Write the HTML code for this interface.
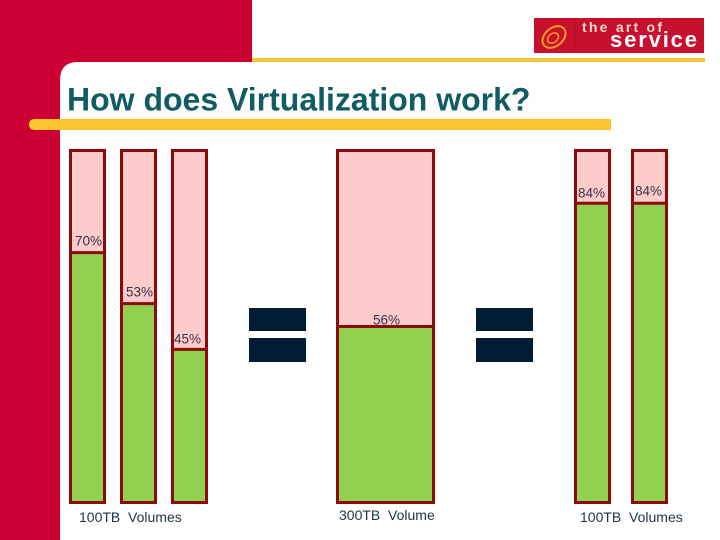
<!DOCTYPE html>
<html lang="en">
<head>
<meta charset="utf-8">
<title>How does Virtualization work?</title>
<style>
html,body{margin:0;padding:0;background:#fff;}
body{width:720px;height:540px;overflow:hidden;position:relative;}
svg{display:block;position:absolute;left:0;top:0;font-family:"Liberation Sans",sans-serif;}
</style>
</head>
<body>
<svg id="chart" width="720" height="540" viewBox="0 0 720 540">
  <rect x="0" y="0" width="252" height="80" fill="#cc0033"/>
  <rect x="0" y="0" width="60" height="540" fill="#cc0033"/>
  <path d="M60 540V80Q60 62 78 62H252V80H720V540Z" fill="#fff"/>
  <rect x="252" y="58" width="453" height="4" fill="#f5c53a"/>
  <g>
    <rect x="534" y="18" width="170" height="35" fill="#c8102e"/>
    <line x1="575.500" y1="18" x2="575.500" y2="53" stroke="#b50e2a" stroke-width="1"/>
    <ellipse cx="554" cy="37" rx="13" ry="9" transform="rotate(-40 554 37)" fill="none" stroke="#f59a23" stroke-width="2"/>
    <ellipse cx="553" cy="38" rx="6" ry="4.500" transform="rotate(-40 553 38)" fill="none" stroke="#f59a23" stroke-width="1.500"/>
    <text x="582" y="32" font-size="14" font-weight="bold" fill="#f6dcc8" textLength="80">the art of</text>
    <text x="610" y="47" font-size="22" font-weight="bold" fill="#fff" textLength="87">service</text>
  </g>
  <text x="67" y="110.500" font-size="32" font-weight="bold" fill="#0f5c62">How does Virtualization work?</text>
  <path d="M35 119H611V130H35Q29 130 29 124.500Q29 119 35 119Z" fill="#fcc52f"/>
  <g id="bars"></g>
  <g id="equals"></g>
  <g id="captions"></g>
</svg>
<script>
const barNames = ["vol-a", "vol-b", "vol-c", "pool", "vol-d", "vol-e"];
const fillLevels = [71, 56.5, 43.5, 50, 85, 85];
const printedLabels = ["70%", "53%", "45%", "56%", "84%", "84%"];
const captionLabels = ["100TB  Volumes", "300TB  Volume", "100TB  Volumes"];

const NS = "http://www.w3.org/2000/svg";
const barsGroup = document.getElementById("bars");
const equalsGroup = document.getElementById("equals");
const captionsGroup = document.getElementById("captions");

const plotTop = 150.5;
const plotBottom = 502.5;
function yScale(pct) { return plotBottom - (plotBottom - plotTop) * pct / 100; }

const barLeft = [70.5, 121.5, 172.5, 337.5, 575.5, 632.5];
const barWidth = [34, 34, 34, 96, 34, 34];
const labelX = [75, 126, 174, 373, 578, 635];
const labelGap = [7, 7, 6, 2, 6, 8];

barNames.forEach(function (name, i) {
  const x = barLeft[i];
  const w = barWidth[i];
  const y = yScale(fillLevels[i]);

  const track = document.createElementNS(NS, "rect");
  track.setAttribute("x", x);
  track.setAttribute("y", plotTop);
  track.setAttribute("width", w);
  track.setAttribute("height", plotBottom - plotTop);
  track.setAttribute("fill", "#ffcccc");
  
  
  barsGroup.appendChild(track);

  const used = document.createElementNS(NS, "rect");
  used.setAttribute("x", x);
  used.setAttribute("y", y);
  used.setAttribute("width", w);
  used.setAttribute("height", plotBottom - y);
  used.setAttribute("fill", "#92d050");
  
  
  barsGroup.appendChild(used);

  const frame = document.createElementNS(NS, "rect");
  frame.setAttribute("x", x);
  frame.setAttribute("y", plotTop);
  frame.setAttribute("width", w);
  frame.setAttribute("height", plotBottom - plotTop);
  frame.setAttribute("fill", "none");
  frame.setAttribute("stroke", "#8b0a0a");
  frame.setAttribute("stroke-width", "3");
  
  
  barsGroup.appendChild(frame);

  const divider = document.createElementNS(NS, "line");
  divider.setAttribute("x1", x);
  divider.setAttribute("x2", x + w);
  divider.setAttribute("y1", y);
  divider.setAttribute("y2", y);
  divider.setAttribute("stroke", "#8b0a0a");
  divider.setAttribute("stroke-width", "3");
  
  
  barsGroup.appendChild(divider);

  const label = document.createElementNS(NS, "text");
  label.setAttribute("x", labelX[i]);
  label.setAttribute("y", y - labelGap[i]);
  label.setAttribute("font-size", "13.500");
  label.setAttribute("fill", "#333344");
  
  
  label.textContent = printedLabels[i];
  barsGroup.appendChild(label);
});

const equalsX = [249, 476];
const equalsY = [308, 338];
const equalsH = [23, 24];
equalsX.forEach(function (x, i) {
  equalsY.forEach(function (y, j) {
    const block = document.createElementNS(NS, "rect");
    block.setAttribute("x", x);
    block.setAttribute("y", y);
    block.setAttribute("width", 57);
    block.setAttribute("height", equalsH[j]);
    block.setAttribute("fill", "#021c33");
    
    
    equalsGroup.appendChild(block);
  });
});

const captionX = [79, 339, 580];
const captionY = [522, 520, 522];
captionLabels.forEach(function (text, i) {
  const caption = document.createElementNS(NS, "text");
  caption.setAttribute("x", captionX[i]);
  caption.setAttribute("y", captionY[i]);
  caption.setAttribute("font-size", "14");
  caption.setAttribute("fill", "#1f3340");
  caption.setAttribute("xml:space", "preserve");
  caption.style.whiteSpace = "pre";
  
  
  caption.textContent = text;
  captionsGroup.appendChild(caption);
});
</script>
</body>
</html>
